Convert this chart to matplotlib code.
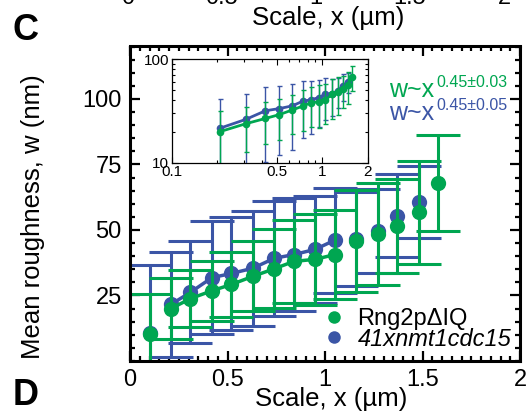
import matplotlib.pyplot as plt
from matplotlib.ticker import MultipleLocator, FixedLocator, NullFormatter, LogLocator
from matplotlib.lines import Line2D

plt.rcParams['font.family'] = ['Liberation Sans', 'DejaVu Sans']

green = '#00a651'
blue = '#3b55a6'

# scale (um) vs mean roughness (nm), mean +- spread
scale_green = [0.10, 0.21, 0.31, 0.42, 0.52, 0.63, 0.74, 0.84, 0.95, 1.05, 1.16, 1.27, 1.37, 1.48, 1.58]
w_green = [10.2, 20.0, 23.8, 26.8, 29.2, 32.3, 35.2, 38.0, 38.8, 40.6, 45.7, 48.4, 51.6, 56.7, 67.9]
err_green = [15.5, 11.5, 11.0, 11.5, 12.5, 13.3, 15.0, 15.7, 17.3, 17.0, 19.5, 19.5, 18.0, 19.5, 18.3]

scale_blue = [0.10, 0.21, 0.31, 0.42, 0.52, 0.63, 0.74, 0.84, 0.95, 1.05, 1.16, 1.27, 1.37, 1.48]
w_blue = [10.8, 21.6, 26.2, 31.8, 33.4, 35.4, 39.2, 40.6, 42.6, 46.1, 46.6, 49.6, 55.5, 60.6]
err_blue = [26.0, 20.0, 19.5, 21.6, 21.6, 22.0, 22.0, 21.5, 20.5, 20.0, 18.0, 16.0, 15.8, 13.8]

# power law fit range (indices)
fit_start, fit_stop = 1, 10

xticks = [0, 0.5, 1, 1.5, 2]
xticklabels = ['0', '0.5', '1', '1.5', '2']
yticks = [25, 50, 75, 100]
inset_xticks = [0.1, 0.5, 1, 2]
inset_xticklabels = ['0.1', '0.5', '1', '2']

W, H = 532, 419
fig = plt.figure(figsize=(W / 100, H / 100), dpi=100)

ax = fig.add_axes([130 / W, 1 - 361 / H, 390 / W, 314.5 / H])

series = [(scale_blue, w_blue, err_blue, blue), (scale_green, w_green, err_green, green)]
for xs, ws, es, c in series:
    ax.errorbar(xs, ws, yerr=es, fmt='none', ecolor=c, elinewidth=2.2,
                capsize=15.5, capthick=2.2)
    ax.plot(xs[fit_start:fit_stop], ws[fit_start:fit_stop], color=c, lw=2.5)
    ax.plot(xs, ws, 'o', color=c, ms=11, mew=0)

ax.set_xlim(0, 2)
ax.set_ylim(0, 120)
ax.set_xticks(xticks)
ax.set_xticklabels(xticklabels)
ax.set_yticks(yticks)
ax.xaxis.set_minor_locator(MultipleLocator(0.05))
ax.yaxis.set_minor_locator(MultipleLocator(5))
ax.tick_params(which='both', direction='in', top=True, right=True, labelsize=17, width=1.6)
ax.tick_params(which='major', length=7, pad=6)
ax.tick_params(which='minor', length=3.5)
for s in ax.spines.values():
    s.set_linewidth(2.2)

ax.set_xlabel('Scale, x (µm)', fontsize=18.5)
ax.xaxis.set_label_coords(0.517, -0.12)
ax.xaxis.label.set_va('center')
ax.set_ylabel('Mean roughness, w (nm)', fontsize=18.5)
ax.yaxis.set_label_coords(-0.249, 0.458)
ax.yaxis.label.set_va('center')

# exponent of the fitted power law
ax.text(0.665, 0.840, 'w~x', color=green, fontsize=18, transform=ax.transAxes, va='baseline')
ax.text(0.786, 0.870, '0.45±0.03', color=green, fontsize=11.5, transform=ax.transAxes, va='baseline')
ax.text(0.665, 0.766, 'w~x', color=blue, fontsize=18, transform=ax.transAxes, va='baseline')
ax.text(0.786, 0.798, '0.45±0.05', color=blue, fontsize=11.5, transform=ax.transAxes, va='baseline')

handles = [Line2D([], [], ls='none', marker='o', ms=9, mew=0, color=green),
           Line2D([], [], ls='none', marker='o', ms=9, mew=0, color=blue)]
leg = ax.legend(handles, ['Rng2pΔIQ', '41xnmt1cdc15'], loc='lower right',
                bbox_to_anchor=(1.02, -0.02), frameon=False, fontsize=17,
                handlelength=0.8, handletextpad=0.6, labelspacing=-0.1, borderpad=0.2)
leg.get_texts()[1].set_style('italic')

# log-log inset
ins = fig.add_axes([171.7 / W, 1 - 162.7 / H, 195.8 / W, 103.4 / H])
for xs, ws, es, c in series:
    ins.errorbar(xs[1:], ws[1:], yerr=es[1:], fmt='none', ecolor=c, elinewidth=1,
                 capsize=1.8, capthick=1)
    ins.plot(xs[1:], ws[1:], '-o', color=c, lw=2, ms=5.5, mew=0)
ins.set_xscale('log')
ins.set_yscale('log')
ins.set_xlim(0.1, 2)
ins.set_ylim(10, 100)
ins.xaxis.set_major_locator(FixedLocator(inset_xticks))
ins.set_xticklabels(inset_xticklabels)
ins.xaxis.set_minor_locator(LogLocator(base=10, subs=range(2, 10)))
ins.xaxis.set_minor_formatter(NullFormatter())
ins.set_yticks([10, 100])
ins.set_yticklabels(['10', '100'])
ins.yaxis.set_minor_locator(LogLocator(base=10, subs=range(2, 10)))
ins.yaxis.set_minor_formatter(NullFormatter())
ins.tick_params(which='both', direction='in', top=True, right=True, labelsize=11, width=0.8)
ins.tick_params(which='major', length=4, pad=2)
ins.tick_params(which='minor', length=2.5)
for s in ins.spines.values():
    s.set_linewidth(0.9)

# neighbouring panel pieces
fig.text(12 / W, 1 - 39.5 / H, 'C', fontsize=26, fontweight='bold', va='baseline')
fig.text(13 / W, 1 - 405 / H, 'D', fontsize=26, fontweight='bold', va='baseline')
fig.text(328 / W, 1 - 25 / H, 'Scale, x (µm)', fontsize=18.5, ha='center', va='baseline')
for px, t in zip([128, 222, 316, 410, 504], xticklabels):
    fig.text(px / W, 1 - 3.5 / H, t, fontsize=17, ha='center', va='baseline')

fig.savefig('out.png', dpi=100)
